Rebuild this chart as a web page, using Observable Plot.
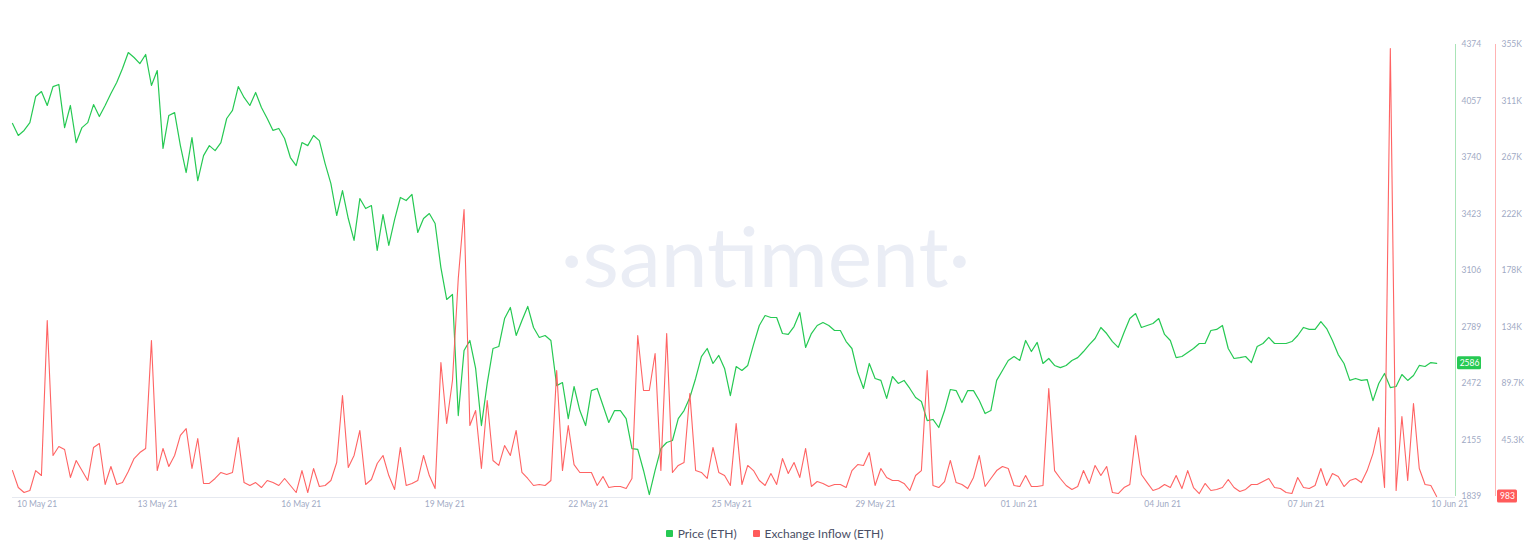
<!DOCTYPE html>
<html>
<head>
<meta charset="utf-8">
<script src="https://cdn.jsdelivr.net/npm/d3@7"></script>
<script src="https://cdn.jsdelivr.net/npm/@observablehq/plot@0.6"></script>
<style>
  html, body { margin: 0; padding: 0; background: #ffffff; }
  #chart { width: 1536px; height: 520px; }
  #legend { display: flex; justify-content: center; align-items: center; height: 26px; padding-left: 13px;
            font: 12px Lato, "Open Sans", sans-serif; color: #4a4f66; }
  .item { display: flex; align-items: center; margin: 0 8px; }
  .sw { width: 7px; height: 7px; border-radius: 1px; margin-right: 5px; }
</style>
</head>
<body>
<div id="chart"></div>
<div id="legend">
  <div class="item"><span class="sw" style="background:#26c953"></span>Price (ETH)</div>
  <div class="item"><span class="sw" style="background:#ff5b5b"></span>Exchange Inflow (ETH)</div>
</div>
<script>
// ---- time frame (3-hour samples from 10 May 2021 10:00 UTC) ----
const START = new Date("2021-05-10T10:00:00Z");
const END = new Date("2021-06-10T06:00:00Z");
const STEP_HOURS = 3;

// ---- Price (ETH), USD ----
const price = [
  3931,3864,3892,3936,4082,4110,4032,4138,4150,3908,
  4032,3824,3908,3936,4037,3970,4032,4099,4161,4239,
  4329,4301,4267,4318,4144,4228,3791,3976,3992,3807,
  3656,3852,3611,3751,3807,3779,3824,3959,4004,4138,
  4077,4032,4105,4021,3959,3892,3903,3847,3740,3695,
  3824,3807,3864,3835,3706,3594,3415,3555,3398,3275,
  3510,3454,3471,3219,3420,3247,3392,3516,3499,3533,
  3320,3398,3426,3370,3123,2944,2972,2293,2658,2714,
  2557,2237,2473,2669,2680,2837,2899,2742,2826,2905,
  2787,2731,2742,2714,2461,2478,2276,2456,2321,2237,
  2433,2445,2349,2254,2321,2321,2276,2108,2103,1985,
  1850,1985,2108,2142,2153,2276,2321,2394,2501,2624,
  2669,2585,2630,2557,2405,2568,2546,2574,2691,2798,
  2854,2843,2843,2753,2748,2792,2871,2675,2753,2798,
  2815,2798,2770,2770,2708,2669,2534,2445,2585,2501,
  2490,2389,2512,2473,2490,2445,2394,2372,2265,2271,
  2226,2321,2439,2433,2366,2433,2433,2377,2304,2321,
  2490,2546,2602,2624,2602,2714,2652,2703,2585,2613,
  2574,2562,2574,2602,2618,2652,2691,2725,2787,2753,
  2708,2675,2759,2837,2865,2787,2798,2809,2837,2748,
  2714,2618,2624,2647,2669,2697,2697,2770,2776,2798,
  2669,2613,2618,2624,2590,2680,2697,2731,2697,2697,
  2697,2708,2742,2787,2776,2776,2820,2781,2714,2635,
  2585,2490,2501,2490,2495,2377,2473,2529,2450,2456,
  2523,2490,2518,2574,2568,2590,2586
];

// ---- Exchange Inflow (ETH) ----
const inflow = [
  21300,8000,4100,5700,21300,17400,138800,33100,40100,37800,
  15900,29200,21300,13500,39400,42500,10400,24500,10400,11900,
  20600,30700,35400,38600,123200,21300,38600,24500,33100,48800,
  54200,22900,46400,11200,11200,15100,19800,18200,19800,47200,
  11900,9600,11900,8000,13500,11900,9600,15100,9600,4100,
  21300,4100,22900,8800,9600,13500,27600,80100,23700,33100,
  52700,10400,14300,26800,33100,17400,6500,39400,9600,11200,
  13500,33100,17400,7200,105900,58200,91800,171700,225800,56600,
  68300,22900,76200,29200,25300,40900,33100,52700,19800,15100,
  9600,10400,9600,13500,99700,21300,56600,26000,19800,19800,
  19800,9600,16600,8000,8800,8800,7200,15100,127100,84000,
  84000,113000,21300,128600,19800,25300,27600,81700,21300,19800,
  15100,39400,19800,17400,9600,58200,10400,25300,21300,13500,
  9600,19000,10400,30700,19000,27600,15900,38600,8800,12700,
  11200,8800,10400,10400,8000,21300,26000,25300,35400,9600,
  22900,15900,13500,13500,11200,5700,17400,21300,99700,9600,
  8000,12700,29200,11900,10400,7200,15900,33100,8800,15100,
  21300,24500,22900,9600,8800,17400,8800,8800,9600,85600,
  21300,15100,9600,6500,8800,21300,11200,25300,17400,24500,
  4100,3300,8000,10400,48800,18200,11900,5700,7200,10400,
  8000,17400,7200,21300,8000,3300,11200,5700,6500,8000,
  14300,8000,4900,6500,10400,10400,12700,15100,8000,7200,
  4100,3300,15900,8000,7200,9600,22900,9600,19000,16600,
  8800,13500,15100,11900,21300,34600,55000,8000,351900,5700,
  63600,13500,73800,22900,10400,9600,983
];

// ---- axes ----
const priceTicks = [1839, 2155, 2472, 2789, 3106, 3423, 3740, 4057, 4374];
const inflowTickLabels = ["983", "45.3K", "89.7K", "134K", "178K", "222K", "267K", "311K", "355K"];
const inflowDomain = [983, 355000];
const xTickDates = [
  "2021-05-10T10:48:00Z", "2021-05-13T13:12:00Z", "2021-05-16T15:36:00Z", "2021-05-19T18:00:00Z",
  "2021-05-22T20:24:00Z", "2021-05-25T22:48:00Z", "2021-05-29T01:12:00Z", "2021-06-01T03:36:00Z",
  "2021-06-04T06:00:00Z", "2021-06-07T08:24:00Z", "2021-06-10T10:48:00Z"
].map(s => new Date(s));
const xTickLabels = ["10 May 21", "13 May 21", "16 May 21", "19 May 21", "22 May 21", "25 May 21",
  "29 May 21", "01 Jun 21", "04 Jun 21", "07 Jun 21", "10 Jun 21"];

const GREEN = "#26c953", RED = "#ff5b5b", AXIS = "#9faac4";

// map inflow onto the price axis (right-hand secondary axis)
const toPriceSpace = d3.scaleLinear().domain(inflowDomain).range([priceTicks[0], priceTicks[priceTicks.length - 1]]);
const timeAt = i => new Date(START.getTime() + i * STEP_HOURS * 3600e3);
const priceData = price.map((v, i) => ({t: timeAt(i), v}));
const inflowData = inflow.map((v, i) => ({t: timeAt(i), v: toPriceSpace(v)}));
const lastPrice = price[price.length - 1];
const lastInflow = inflow[inflow.length - 1];

const chart = Plot.plot({
  width: 1536,
  height: 520,
  marginLeft: 12,
  marginRight: 96,
  marginTop: 44,
  marginBottom: 24,
  x: {type: "utc", domain: [START, END], axis: null},
  y: {domain: [priceTicks[0], priceTicks[priceTicks.length - 1]], axis: null},
  style: {fontFamily: "Lato, 'Open Sans', sans-serif", background: "#ffffff", overflow: "visible"},
  marks: [
    // watermark
    Plot.text(["·santiment·"], {text: d => d, frameAnchor: "middle", dx: 39, dy: -10,
      fontSize: 84, fontWeight: 400, fill: "#eaedf5"}),
    // bottom baseline
    Plot.ruleY([priceTicks[0]], {stroke: "#e6e9f0", dy: 1, insetRight: -15}),
    // right axis lines
    Plot.ruleX([END], {y1: priceTicks[0], y2: priceTicks[priceTicks.length - 1], dx: 15, stroke: "#a9e4b7"}),
    Plot.ruleX([END], {y1: priceTicks[0], y2: priceTicks[priceTicks.length - 1], dx: 55, stroke: "#ffb3b3"}),
    // series
    Plot.line(priceData, {x: "t", y: "v", stroke: GREEN, strokeWidth: 1.2}),
    Plot.line(inflowData, {x: "t", y: "v", stroke: RED, strokeWidth: 1.1, strokeOpacity: 0.95}),
    // x labels
    Plot.text([0], {x: () => xTickDates[0], text: () => xTickLabels[0], frameAnchor: "bottom",
      dy: 10.5, dx: 3, textAnchor: "start", fill: AXIS, fontSize: 8.5}),
    Plot.text(xTickDates.slice(1), {x: d => d, text: (d, i) => xTickLabels[i + 1], frameAnchor: "bottom",
      dy: 10.5, fill: AXIS, fontSize: 8.5}),
    // price axis labels
    Plot.text(priceTicks, {y: d => d, text: d => String(d), frameAnchor: "right", dx: 21,
      textAnchor: "start", fill: AXIS, fontSize: 8.5}),
    // inflow axis labels
    Plot.text(priceTicks.slice(1), {y: d => d, text: (d, i) => inflowTickLabels[i + 1], frameAnchor: "right",
      dx: 61, textAnchor: "start", fill: AXIS, fontSize: 8.5}),
    // last value badges
    Plot.rect([lastPrice], {x1: () => END, x2: () => END, y1: d => d, y2: d => d,
      insetLeft: -12, insetRight: -12, insetTop: -6.5, insetBottom: -6.5, dx: 29, fill: GREEN, rx: 1.5}),
    Plot.text([lastPrice], {x: () => END, y: d => d, text: d => String(d), dx: 29, fill: "#ffffff", fontSize: 8.5}),
    Plot.rect([lastInflow], {x1: () => END, x2: () => END, y1: d => toPriceSpace(d), y2: d => toPriceSpace(d),
      insetLeft: -10, insetRight: -10, insetTop: -6.5, insetBottom: -6.5, dx: 67, fill: RED, rx: 1.5}),
    Plot.text([lastInflow], {x: () => END, y: d => toPriceSpace(d), text: d => String(d), dx: 67,
      fill: "#ffffff", fontSize: 8.5})
  ]
});
document.getElementById("chart").appendChild(chart);
</script>
</body>
</html>
